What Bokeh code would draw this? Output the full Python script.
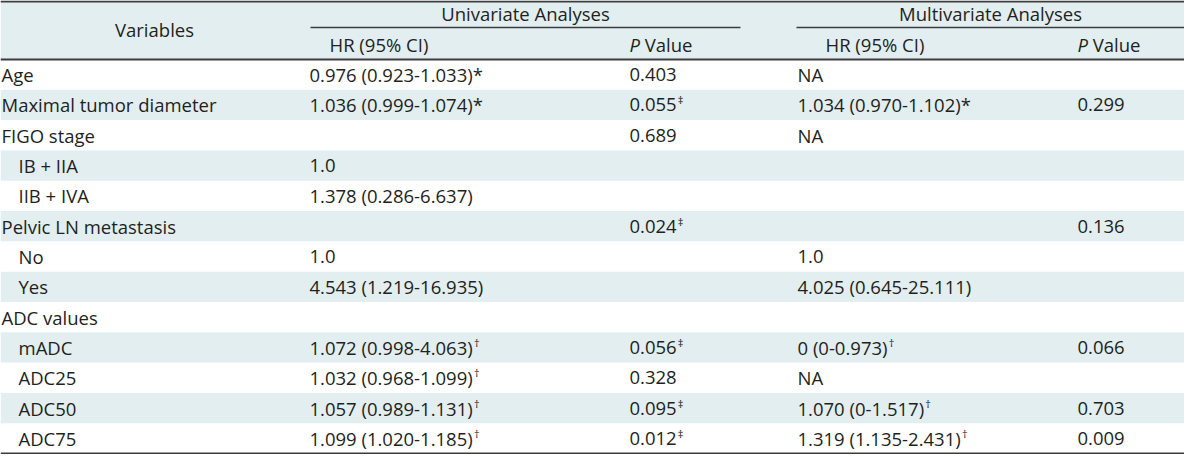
from bokeh.plotting import figure
from bokeh.models import ColumnDataSource, Range1d
from bokeh.core.properties import value
from bokeh.embed import file_html
from bokeh.resources import INLINE

# ---------------- data ----------------
variables = ["Age", "Maximal tumor diameter", "FIGO stage", "IB + IIA", "IIB + IVA",
             "Pelvic LN metastasis", "No", "Yes", "ADC values", "mADC", "ADC25", "ADC50", "ADC75"]
indent = [0, 0, 0, 1, 1, 0, 1, 1, 0, 1, 1, 1, 1]
uni_hr = ["0.976 (0.923-1.033)*", "1.036 (0.999-1.074)*", "", "1.0", "1.378 (0.286-6.637)", "",
          "1.0", "4.543 (1.219-16.935)", "", "1.072 (0.998-4.063)", "1.032 (0.968-1.099)",
          "1.057 (0.989-1.131)", "1.099 (1.020-1.185)"]
uni_hr_sup = ["", "", "", "", "", "", "", "", "", "†", "†", "†", "†"]
uni_p = ["0.403", "0.055", "0.689", "", "", "0.024", "", "", "", "0.056", "0.328", "0.095", "0.012"]
uni_p_sup = ["", "‡", "", "", "", "‡", "", "", "", "‡", "", "‡", "‡"]
multi_hr = ["NA", "1.034 (0.970-1.102)*", "NA", "", "", "", "1.0", "4.025 (0.645-25.111)", "",
            "0 (0-0.973)", "NA", "1.070 (0-1.517)", "1.319 (1.135-2.431)"]
multi_hr_sup = ["", "", "", "", "", "", "", "", "", "†", "", "†", "†"]
multi_p = ["", "0.299", "", "", "", "0.136", "", "", "", "0.066", "", "0.703", "0.009"]

group_titles = ["Univariate Analyses", "Multivariate Analyses"]
sub_headers = ["HR (95% CI)", "Value"]

# ---------------- layout ----------------
FS = 18.5
FONT = "Open Sans"
TXT = "#231f20"
SHADE = "#e2eef0"
RULE = "#3c3c3c"
LEFT, RIGHT = 8, 1192
TOP, HEAD_BOT, BOTTOM = 9, 67, 461
n = len(variables)
RH = (BOTTOM - HEAD_BOT) / n
row_y = [HEAD_BOT + RH * (i + 0.5) for i in range(n)]

X_VAR, X_IND = 9, 26
X_UHR, X_UP, X_MHR, X_MP = 317, 637, 805, 1085
UNI_SPAN = (318, 748)
MUL_SPAN = (804, RIGHT)

W = {c: 0.572 for c in "0123456789"}
W.update({".": 0.266, " ": 0.26, "(": 0.297, ")": 0.297, "-": 0.322, "*": 0.551})


def tw(s):
    return sum(W.get(c, 0.55) for c in s) * FS


p = figure(width=1184, height=454, x_range=Range1d(LEFT, RIGHT), y_range=Range1d(462, 8),
           output_backend="svg", toolbar_location=None, min_border=0,
           x_axis_type=None, y_axis_type=None)
p.grid.visible = False
p.outline_line_color = None
p.background_fill_color = "white"
p.border_fill_color = "white"

# shaded bands
band_top = [TOP]
band_bot = [HEAD_BOT]
for i in range(n):
    if i % 2 == 1:
        band_top.append(HEAD_BOT + RH * i)
        band_bot.append(HEAD_BOT + RH * (i + 1))
p.quad(left=LEFT, right=RIGHT, top=band_top, bottom=band_bot, fill_color=SHADE, line_color=None)

# rules
p.segment(x0=[LEFT, LEFT, LEFT], x1=[RIGHT, RIGHT, RIGHT], y0=[TOP, HEAD_BOT, BOTTOM],
          y1=[TOP, HEAD_BOT, BOTTOM], line_color=RULE, line_width=2)
p.segment(x0=[UNI_SPAN[0], MUL_SPAN[0]], x1=[UNI_SPAN[1], MUL_SPAN[1]], y0=[35, 35], y1=[35, 35],
          line_color=RULE, line_width=1.5)

common = dict(text_font=value(FONT), text_font_size=f"{FS}px", text_color=TXT,
              text_baseline="middle")

# header
p.text(x=[162], y=[37], text=["Variables"], text_align="center", **common)
p.text(x=[sum(UNI_SPAN) / 2, sum(MUL_SPAN) / 2], y=[21, 21], text=group_titles,
       text_align="center", **common)
p.text(x=[337, 833], y=[52, 52], text=[sub_headers[0]] * 2, text_align="left", **common)
p.text(x=[X_UP, X_MP], y=[52, 52], text=["P", "P"], text_align="left",
       text_font_style="italic", **common)
pw = 0.56 * FS + 0.26 * FS
p.text(x=[X_UP, X_MP], y=[52, 52], text=[sub_headers[1]] * 2, x_offset=pw, text_align="left", **common)

# body
var_x = [X_IND if k else X_VAR for k in indent]
p.text(x=var_x, y=row_y, text=variables, text_align="left", **common)

for col_x, vals, sups in [(X_UHR, uni_hr, uni_hr_sup), (X_UP, uni_p, uni_p_sup),
                          (X_MHR, multi_hr, multi_hr_sup), (X_MP, multi_p, [""] * n)]:
    src = ColumnDataSource(dict(x=[col_x] * n, y=row_y, t=vals))
    p.text(x="x", y="y", text="t", source=src, text_align="left", **common)
    sx = [col_x for s in sups if s]
    sy = [row_y[i] for i, s in enumerate(sups) if s]
    st = [s for s in sups if s]
    so = [tw(vals[i]) + 1 for i, s in enumerate(sups) if s]
    if st:
        ssrc = ColumnDataSource(dict(x=sx, y=sy, t=st, o=so))
        p.text(x="x", y="y", text="t", x_offset="o", y_offset=-5, source=ssrc,
               text_align="left", text_baseline="middle", text_font=value(FONT),
               text_font_size="11px", text_color=TXT)

open("out.html", "w").write(file_html(p, INLINE))
